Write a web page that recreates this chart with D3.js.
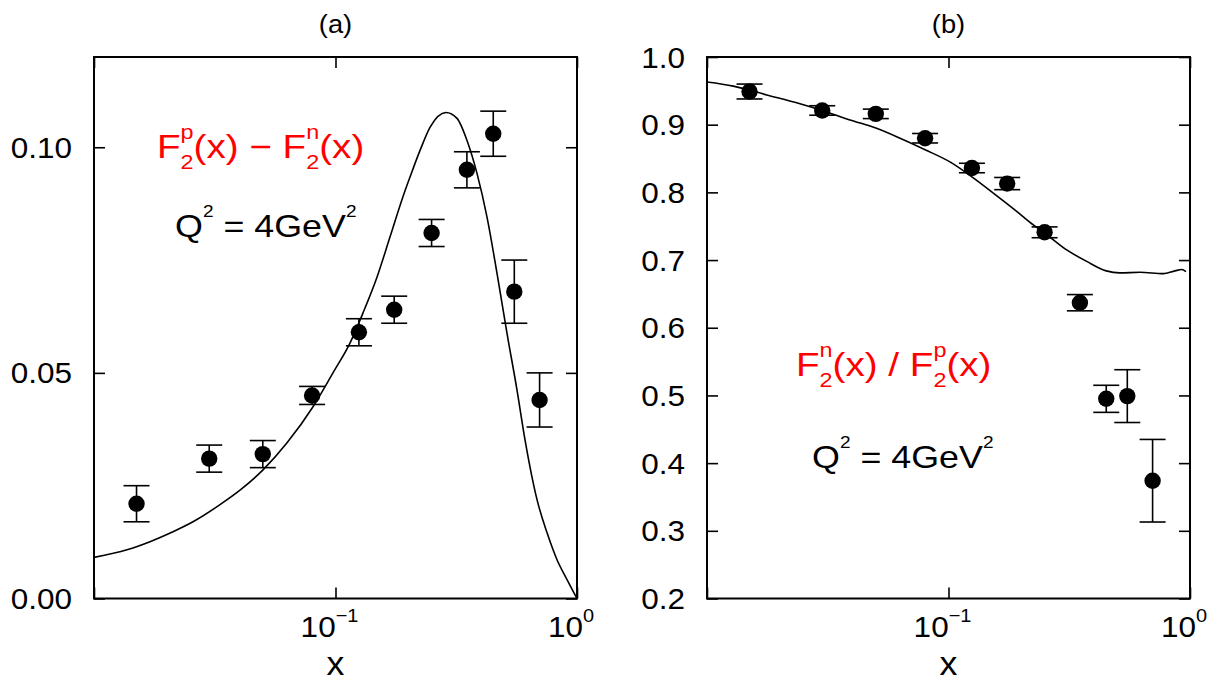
<!DOCTYPE html>
<html>
<head>
<meta charset="utf-8">
<script src="https://cdn.jsdelivr.net/npm/d3@7/dist/d3.min.js"></script>
<style>
  body { margin: 0; background: #fff; }
  svg { display: block; font-family: 'Liberation Sans', Arial, sans-serif; }
</style>
</head>
<body>
<svg id="chart" width="1218" height="683"></svg>
<script>
// measured x bins (shared by both panels)
const xBins = [0.015, 0.03, 0.05, 0.08, 0.125, 0.175, 0.25, 0.35, 0.45, 0.55, 0.7];

// panel (a): F2p - F2n data and errors
const diffValues = [0.021, 0.031, 0.032, 0.045, 0.059, 0.064, 0.081, 0.095, 0.103, 0.068, 0.044];
const diffErrors = [0.004, 0.003, 0.003, 0.002, 0.003, 0.003, 0.003, 0.004, 0.005, 0.007, 0.006];

// panel (a): model curve
const diffCurveX = [0.01, 0.0137, 0.01705, 0.02124, 0.0257, 0.03325, 0.04023, 0.0501, 0.063, 0.0807,
  0.0976, 0.1148, 0.13, 0.1485, 0.1681, 0.1904, 0.2035, 0.2239, 0.2462, 0.2868, 0.3186, 0.3504,
  0.3854, 0.424, 0.4663, 0.5129, 0.5644, 0.609, 0.683, 0.7512, 0.8264, 0.9092, 1.0];
const diffCurveY = [0.0091, 0.0108, 0.0126, 0.0148, 0.017, 0.0208, 0.024, 0.0285, 0.0345, 0.0425,
  0.05, 0.0566, 0.0633, 0.0712, 0.0801, 0.0891, 0.0934, 0.0993, 0.1044, 0.1077, 0.1064, 0.1015,
  0.0942, 0.0845, 0.0721, 0.0588, 0.0462, 0.0352, 0.0219, 0.0146, 0.0086, 0.0042, 0.0];

// panel (b): F2n / F2p data and errors
const ratioValues = [0.949, 0.921, 0.916, 0.880, 0.836, 0.813, 0.741, 0.637, 0.495, 0.499, 0.374];
const ratioErrors = [0.011, 0.007, 0.007, 0.007, 0.007, 0.009, 0.008, 0.012, 0.02, 0.039, 0.061];

// panel (b): model curve
const ratioCurveX = [0.01, 0.01285, 0.01767, 0.02427, 0.03, 0.03909, 0.05, 0.063, 0.08, 0.1014,
  0.125, 0.1533, 0.1916, 0.2245, 0.25, 0.3086, 0.3735, 0.45, 0.5129, 0.6209, 0.7754, 0.8667,
  0.9239, 0.9625];
const ratioCurveY = [0.963, 0.957, 0.944, 0.931, 0.921, 0.907, 0.895, 0.880, 0.863, 0.845,
  0.823, 0.799, 0.772, 0.752, 0.740, 0.715, 0.698, 0.684, 0.681, 0.682, 0.680, 0.684,
  0.686, 0.683];

// tick values
const diffTicksMinor = d3.range(0, 0.1201, 0.01);
const diffTicksMajor = [0, 0.05, 0.10];
const diffTickLabels = ['0.00', '0.05', '0.10'];
const ratioTicks = [0.2, 0.3, 0.4, 0.5, 0.6, 0.7, 0.8, 0.9, 1.0];
const ratioTickLabels = ['0.2', '0.3', '0.4', '0.5', '0.6', '0.7', '0.8', '0.9', '1.0'];
const xTicksMajor = [0.01, 0.1, 1];
const xTickExponents = ['', '\u22121', '0'];
const xTicksMinor = [0.01, 0.1].flatMap((d) => d3.range(2, 10).map((m) => d * m));

const svg = d3.select('#chart');
const plotTop = 57;
const plotBottom = 598.5;
const red = '#ff0000';

// helper: text with a slight horizontal stretch like the original
const addText = (parent, x, y, size, anchor, sx) =>
  parent
    .append('text')
    .attr('transform', `translate(${x},${y}) scale(${sx},1)`)
    .attr('text-anchor', anchor)
    .attr('font-size', size);

const drawPanel = (cfg) => {
  const g = svg.append('g');
  const x = d3.scaleLog().domain([0.01, 1]).range([cfg.left, cfg.right]);
  const y = d3.scaleLinear().domain(cfg.yDomain).range([plotBottom, plotTop]);

  // x ticks, bottom and top, pointing inwards
  const xAxes = [
    [d3.axisBottom, plotBottom],
    [d3.axisTop, plotTop]
  ];
  xAxes.forEach(([axisFn, pos]) => {
    g.append('g')
      .attr('transform', `translate(0,${pos})`)
      .call(axisFn(x).tickValues(xTicksMinor).tickSize(-6).tickFormat(''))
      .call(axisFn(x).tickValues(xTicksMajor).tickSize(-11).tickFormat(''));
  });

  // y ticks, left and right
  const yAxes = [
    [d3.axisLeft, cfg.left],
    [d3.axisRight, cfg.right]
  ];
  yAxes.forEach(([axisFn, pos]) => {
    const ag = g.append('g').attr('transform', `translate(${pos},0)`);
    if (cfg.yMinor) ag.call(axisFn(y).tickValues(cfg.yMinor).tickSize(-6).tickFormat(''));
    ag.call(axisFn(y).tickValues(cfg.yMajor).tickSize(-11).tickFormat(''));
  });

  g.selectAll('.domain').remove();
  g.selectAll('.tick line').attr('stroke', '#000').attr('stroke-width', 1.6);

  // frame
  g.append('rect')
    .attr('x', cfg.left)
    .attr('y', plotTop)
    .attr('width', cfg.right - cfg.left)
    .attr('height', plotBottom - plotTop)
    .attr('fill', 'none')
    .attr('stroke', '#000')
    .attr('stroke-width', 2);

  // y tick labels
  cfg.yMajor.forEach((v, i) => {
    addText(g, cfg.left - 22, y(v), 30, 'end', 1.05)
      .attr('dy', '0.35em')
      .text(cfg.yLabels[i]);
  });

  // x tick labels 10^n
  xTicksMajor.forEach((v, i) => {
    if (i === 0) return;
    const t = addText(g, x(v) - 6, plotBottom + 38, 30, 'middle', 1.05);
    t.append('tspan').text('10');
    t.append('tspan').attr('font-size', 19).attr('dy', -15).text(xTickExponents[i]);
  });

  // axis title and panel title
  addText(g, (cfg.left + cfg.right) / 2, 675, 34, 'middle', 1.05).text('x');
  addText(g, (cfg.left + cfg.right) / 2, 33, 26, 'middle', 1.05).text(cfg.title);

  // clip for the curve
  const clipId = `clip-${cfg.title.replace(/\W/g, '')}`;
  g.append('clipPath')
    .attr('id', clipId)
    .append('rect')
    .attr('x', cfg.left)
    .attr('y', plotTop)
    .attr('width', cfg.right - cfg.left)
    .attr('height', plotBottom - plotTop);

  const line = d3
    .line()
    .x((d) => x(d[0]))
    .y((d) => y(d[1]))
    .curve(d3.curveMonotoneX);

  g.append('path')
    .datum(d3.zip(cfg.curveX, cfg.curveY))
    .attr('clip-path', `url(#${clipId})`)
    .attr('d', line)
    .attr('fill', 'none')
    .attr('stroke', '#000')
    .attr('stroke-width', 1.6);

  // error bars
  const pts = xBins.map((xb, i) => ({ x: xb, y: cfg.values[i], e: cfg.errors[i] }));
  const eb = g.selectAll('.err').data(pts).enter().append('g').attr('class', 'err')
    .attr('stroke', '#000').attr('stroke-width', 1.6);
  eb.append('line')
    .attr('x1', (d) => x(d.x)).attr('x2', (d) => x(d.x))
    .attr('y1', (d) => y(d.y - d.e)).attr('y2', (d) => y(d.y + d.e));
  [-1, 1].forEach((s) => {
    eb.append('line')
      .attr('x1', (d) => x(d.x) - 13).attr('x2', (d) => x(d.x) + 13)
      .attr('y1', (d) => y(d.y + s * d.e)).attr('y2', (d) => y(d.y + s * d.e));
  });

  // data points
  g.selectAll('.pt').data(pts).enter().append('circle')
    .attr('class', 'pt')
    .attr('cx', (d) => x(d.x))
    .attr('cy', (d) => y(d.y))
    .attr('r', 8.2)
    .attr('fill', '#000');

  return g;
};

const gA = drawPanel({
  left: 94, right: 577, yDomain: [0, 0.12],
  yMinor: diffTicksMinor, yMajor: diffTicksMajor, yLabels: diffTickLabels,
  curveX: diffCurveX, curveY: diffCurveY,
  values: diffValues, errors: diffErrors, title: '(a)'
});

const gB = drawPanel({
  left: 707, right: 1190, yDomain: [0.2, 1.0],
  yMinor: null, yMajor: ratioTicks, yLabels: ratioTickLabels,
  curveX: ratioCurveX, curveY: ratioCurveY,
  values: ratioValues, errors: ratioErrors, title: '(b)'
});

// red structure function label with stacked sub/superscripts
const addFLabel = (parent, x0, y0, supA, op, supB) => {
  const t = addText(parent, x0, y0, 33, 'start', 1.17).attr('fill', red);
  const pair = (sup) => {
    t.append('tspan').attr('font-size', 20).attr('dy', 11).text('2');
    t.append('tspan').attr('font-size', 20).attr('dx', -11.1).attr('dy', -30).text(sup);
  };
  t.append('tspan').text('F');
  pair(supA);
  t.append('tspan').attr('dy', 19).text(`(x) ${op} F`);
  pair(supB);
  t.append('tspan').attr('dy', 19).text('(x)');
};

const addQLabel = (parent, x0, y0) => {
  const t = addText(parent, x0, y0, 32, 'start', 1.12).attr('fill', '#000');
  t.append('tspan').text('Q');
  t.append('tspan').attr('font-size', 17).attr('dy', -20).text('2');
  t.append('tspan').attr('dy', 20).text(' = 4GeV');
  t.append('tspan').attr('font-size', 17).attr('dy', -20).text('2');
};

addFLabel(gA, 157, 158, 'p', '\u2212', 'n');
addQLabel(gA, 175, 237);
addFLabel(gB, 796, 376, 'n', '/', 'p');
addQLabel(gB, 812, 468);
</script>
</body>
</html>
